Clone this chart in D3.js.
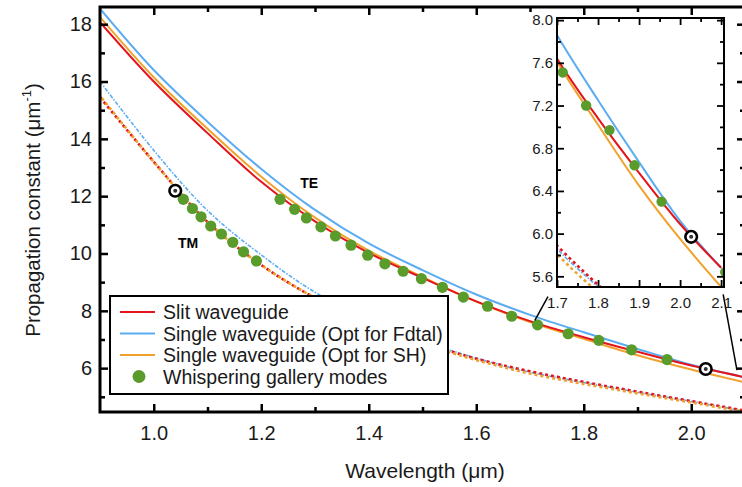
<!DOCTYPE html>
<html>
<head>
<meta charset="utf-8">
<script src="https://cdn.jsdelivr.net/npm/d3@7"></script>
<style>
body { margin: 0; background: #fff; }
text { font-family: "Liberation Sans", Arial, sans-serif; }
</style>
</head>
<body>
<div id="chart"></div>
<script>
// wavelength grid (um) for the simulated curves
const lambda = [0.9, 1.0, 1.1, 1.2, 1.3, 1.4, 1.5, 1.6, 1.7, 1.8, 1.9, 2.0, 2.1];

// TE propagation constants (um^-1)
const teSlit  = [18.07, 16.0, 14.2, 12.5, 11.12, 10.02, 9.15, 8.33, 7.64, 7.08, 6.57, 6.09, 5.68];
const teFdtal = [18.54, 16.4, 14.6, 12.95, 11.52, 10.35, 9.42, 8.57, 7.86, 7.25, 6.67, 6.12, 5.68];
const teSH    = [18.25, 16.15, 14.35, 12.68, 11.25, 10.1, 9.18, 8.32, 7.61, 7.02, 6.45, 5.95, 5.50];

// TM propagation constants (um^-1)
const tmSlit  = [15.45, 13.2, 11.1, 9.6, 8.45, 7.55, 6.9, 6.33, 5.89, 5.52, 5.18, 4.85, 4.52];
const tmFdtal = [16.0, 13.6, 11.5, 9.95, 8.65, 7.7, 6.95, 6.35, 5.86, 5.5, 5.16, 4.84, 4.50];
const tmSH    = [15.5, 13.2, 11.1, 9.6, 8.45, 7.52, 6.86, 6.28, 5.81, 5.45, 5.12, 4.80, 4.47];

// whispering gallery modes
const wgmTElambda = [1.235, 1.262, 1.284, 1.311, 1.338, 1.367, 1.398, 1.430, 1.464, 1.498,
                     1.537, 1.576, 1.621, 1.666, 1.714, 1.771, 1.828, 1.889, 1.955, 2.027, 2.110];
const wgmTEbeta   = [11.89, 11.54, 11.24, 10.93, 10.61, 10.29, 9.94, 9.64, 9.38, 9.12,
                     8.82, 8.48, 8.16, 7.81, 7.51, 7.20, 6.97, 6.64, 6.30, 5.97, 5.64];
const wgmTMlambda = [1.040, 1.055, 1.072, 1.088, 1.106, 1.126, 1.147, 1.167, 1.191];
const wgmTMbeta   = [12.19, 11.89, 11.57, 11.28, 10.96, 10.68, 10.39, 10.06, 9.74];

// highlighted modes (circled)
const circledLambda = [1.040, 2.027];
const circledBeta   = [12.19, 5.97];

const xTicks = [1.0, 1.2, 1.4, 1.6, 1.8, 2.0];
const xMinor = [1.1, 1.3, 1.5, 1.7, 1.9];
const yTicks = [6, 8, 10, 12, 14, 16, 18];
const yMinor = [5, 7, 9, 11, 13, 15, 17];
const insetXTicks = [1.7, 1.8, 1.9, 2.0, 2.1];
const insetXMinor = [1.75, 1.85, 1.95, 2.05];
const insetYTicks = [5.6, 6.0, 6.4, 6.8, 7.2, 7.6, 8.0];
const insetYMinor = [5.8, 6.2, 6.6, 7.0, 7.4, 7.8];

const legendNames = ["Slit waveguide", "Single waveguide (Opt for Fdtal)",
                     "Single waveguide (Opt for SH)", "Whispering gallery modes"];

const RED = "#e3141c", BLUE = "#5cacf2", ORANGE = "#f0a22c", GREEN = "#5a9c2c";

const W = 742, H = 487;
const svg = d3.select("#chart").append("svg")
  .attr("width", W).attr("height", H);

const x = d3.scaleLinear().domain([0.9, 2.1]).range([100, 745]);
const y = d3.scaleLinear().domain([4.47, 18.6]).range([412, 7]);

const xi = d3.scaleLinear().domain([1.7, 2.107]).range([557, 724]);
const yi = d3.scaleLinear().domain([5.5, 8.02]).range([287, 18]);

const defs = svg.append("defs");
defs.append("clipPath").attr("id", "clipMain").append("rect")
  .attr("x", x(0.9)).attr("y", y(18.6)).attr("width", x(2.1) - x(0.9)).attr("height", y(4.47) - y(18.6));
defs.append("clipPath").attr("id", "clipInset").append("rect")
  .attr("x", xi(1.7)).attr("y", yi(8.02)).attr("width", xi(2.107) - xi(1.7)).attr("height", yi(5.5) - yi(8.02));

const series = [
  {vals: tmFdtal, color: BLUE, w: 1.6, dash: "4,1.5,1.5,1.5", off: 0},
  {vals: tmSlit, color: RED, w: 2.6, dash: "3,3", off: 0},
  {vals: tmSH, color: ORANGE, w: 2.6, dash: "3,3", off: 3},
  {vals: teFdtal, color: BLUE, w: 2, dash: null, off: 0},
  {vals: teSH, color: ORANGE, w: 2, dash: null, off: 0},
  {vals: teSlit, color: RED, w: 2, dash: null, off: 0}
];

function drawPlot(g, sx, sy, clip, r) {
  const pg = g.append("g").attr("clip-path", "url(#" + clip + ")");
  const line = d3.line().x((d, i) => sx(lambda[i])).y(d => sy(d)).curve(d3.curveCatmullRom);
  series.forEach(s => {
    pg.append("path").datum(s.vals)
      .attr("d", line)
      .attr("fill", "none")
      .attr("stroke", s.color)
      .attr("stroke-width", s.w)
      .attr("stroke-dasharray", s.dash)
      .attr("stroke-dashoffset", s.off);
  });
  const dots = wgmTElambda.map((l, i) => [l, wgmTEbeta[i]])
    .concat(wgmTMlambda.map((l, i) => [l, wgmTMbeta[i]]))
    .filter(d => !circledLambda.some(c => Math.abs(c - d[0]) < 1e-6));
  pg.selectAll(null).data(dots).enter().append("circle")
    .attr("cx", d => sx(d[0])).attr("cy", d => sy(d[1]))
    .attr("r", r).attr("fill", GREEN);
  const circ = circledLambda.map((l, i) => [l, circledBeta[i]]);
  pg.selectAll(null).data(circ).enter().append("circle")
    .attr("cx", d => sx(d[0])).attr("cy", d => sy(d[1]))
    .attr("r", 5.8).attr("fill", "#fff").attr("stroke", "#000").attr("stroke-width", 2.6);
  pg.selectAll(null).data(circ).enter().append("circle")
    .attr("cx", d => sx(d[0])).attr("cy", d => sy(d[1]))
    .attr("r", 2).attr("fill", "#333");
}

function drawAxes(g, sx, sy, major, minor, fmtX, fmtY, opts) {
  const [x0, x1] = sx.range(), [y0, y1] = sy.range(); // y0 bottom
  const ax = [
    {gen: d3.axisBottom(sx), t: "translate(0," + y0 + ")", ticks: major.x, m: minor.x, fmt: fmtX, lbl: true, pad: opts.padX},
    {gen: d3.axisTop(sx), t: "translate(0," + y1 + ")", ticks: major.x, m: minor.x, fmt: fmtX, lbl: false},
    {gen: d3.axisLeft(sy), t: "translate(" + x0 + ",0)", ticks: major.y, m: minor.y, fmt: fmtY, lbl: true, pad: opts.padY},
    {gen: d3.axisRight(sy), t: "translate(" + x1 + ",0)", ticks: major.y, m: minor.y, fmt: fmtY, lbl: false}
  ];
  ax.forEach(a => {
    const gMaj = g.append("g").attr("transform", a.t)
      .call(a.gen.tickValues(a.ticks).tickSize(-opts.major)
        .tickPadding(a.lbl ? a.pad : 0)
        .tickFormat(a.lbl ? a.fmt : ""));
    gMaj.select(".domain").remove();
    gMaj.selectAll("line").attr("stroke-width", opts.tw);
    gMaj.selectAll("text").attr("font-size", opts.fs).attr("fill", "#1a1a1a");
    const gMin = g.append("g").attr("transform", a.t)
      .call(a.gen.tickValues(a.m).tickSize(-opts.minor).tickFormat(""));
    gMin.select(".domain").remove();
    gMin.selectAll("line").attr("stroke-width", opts.tw);
  });
  g.append("rect")
    .attr("x", x0).attr("y", y1).attr("width", x1 - x0).attr("height", y0 - y1)
    .attr("fill", "none").attr("stroke", "#000").attr("stroke-width", opts.fw);
}

// ----- main plot -----
const main = svg.append("g");
drawPlot(main, x, y, "clipMain", 5.6);
drawAxes(main, x, y, {x: xTicks, y: yTicks}, {x: xMinor, y: yMinor},
  d3.format(".1f"), d3.format("d"),
  {major: 8, minor: 5, tw: 2.5, fw: 3, fs: 20, padX: 14, padY: 8});

main.append("text").attr("x", x(1.289)).attr("y", y(12.3))
  .attr("font-size", 14).attr("font-weight", "bold").attr("text-anchor", "middle").text("TE");
main.append("text").attr("x", x(1.064)).attr("y", y(10.2))
  .attr("font-size", 14).attr("font-weight", "bold").attr("text-anchor", "middle").text("TM");

// axis titles
svg.append("text").attr("x", 425).attr("y", 478)
  .attr("text-anchor", "middle").attr("font-size", 21).attr("fill", "#1a1a1a")
  .text("Wavelength (\u03bcm)");
const yt = svg.append("text").attr("transform", "translate(40,210) rotate(-90)")
  .attr("text-anchor", "middle").attr("font-size", 20.5).attr("fill", "#1a1a1a");
yt.append("tspan").text("Propagation constant (\u03bcm");
yt.append("tspan").attr("font-size", 13).attr("dy", -9).text("-1");
yt.append("tspan").attr("dy", 9).text(")");

// zoom indicator lines (main curve -> inset corners)
const links = [
  {from: [1.709, 7.67], to: [1.678, 5.41]},
  {from: [2.085, 5.93], to: [2.105, 5.43]}
];
links.forEach(l => {
  svg.append("line")
    .attr("x1", x(l.from[0])).attr("y1", y(l.from[1]))
    .attr("x2", xi(l.to[0])).attr("y2", yi(l.to[1]))
    .attr("stroke", "#000").attr("stroke-width", 1.5);
});

// legend
const lg = svg.append("g");
lg.append("rect").attr("x", 110).attr("y", 296).attr("width", 338).attr("height", 98)
  .attr("fill", "#fff").attr("stroke", "#000").attr("stroke-width", 2);
const legColors = [RED, BLUE, ORANGE];
legendNames.forEach((name, i) => {
  const yy = 312 + i * 21.5;
  if (i < 3) {
    lg.append("line").attr("x1", 120).attr("x2", 155).attr("y1", yy).attr("y2", yy)
      .attr("stroke", legColors[i]).attr("stroke-width", 2);
  } else {
    lg.append("circle").attr("cx", 139).attr("cy", yy).attr("r", 6.5).attr("fill", GREEN);
  }
  lg.append("text").attr("x", 163).attr("y", yy + 7)
    .attr("font-size", 19.5).attr("fill", "#1a1a1a").text(name);
});

// ----- inset -----
const inset = svg.append("g");
inset.append("rect").attr("x", xi(1.7)).attr("y", yi(8.02))
  .attr("width", xi(2.107) - xi(1.7)).attr("height", yi(5.5) - yi(8.02)).attr("fill", "#fff");
drawPlot(inset, xi, yi, "clipInset", 5.2);
drawAxes(inset, xi, yi, {x: insetXTicks, y: insetYTicks}, {x: insetXMinor, y: insetYMinor},
  d3.format(".1f"), d3.format(".1f"),
  {major: 7, minor: 4, tw: 1.8, fw: 2, fs: 15, padX: 10, padY: 4});
</script>
</body>
</html>
